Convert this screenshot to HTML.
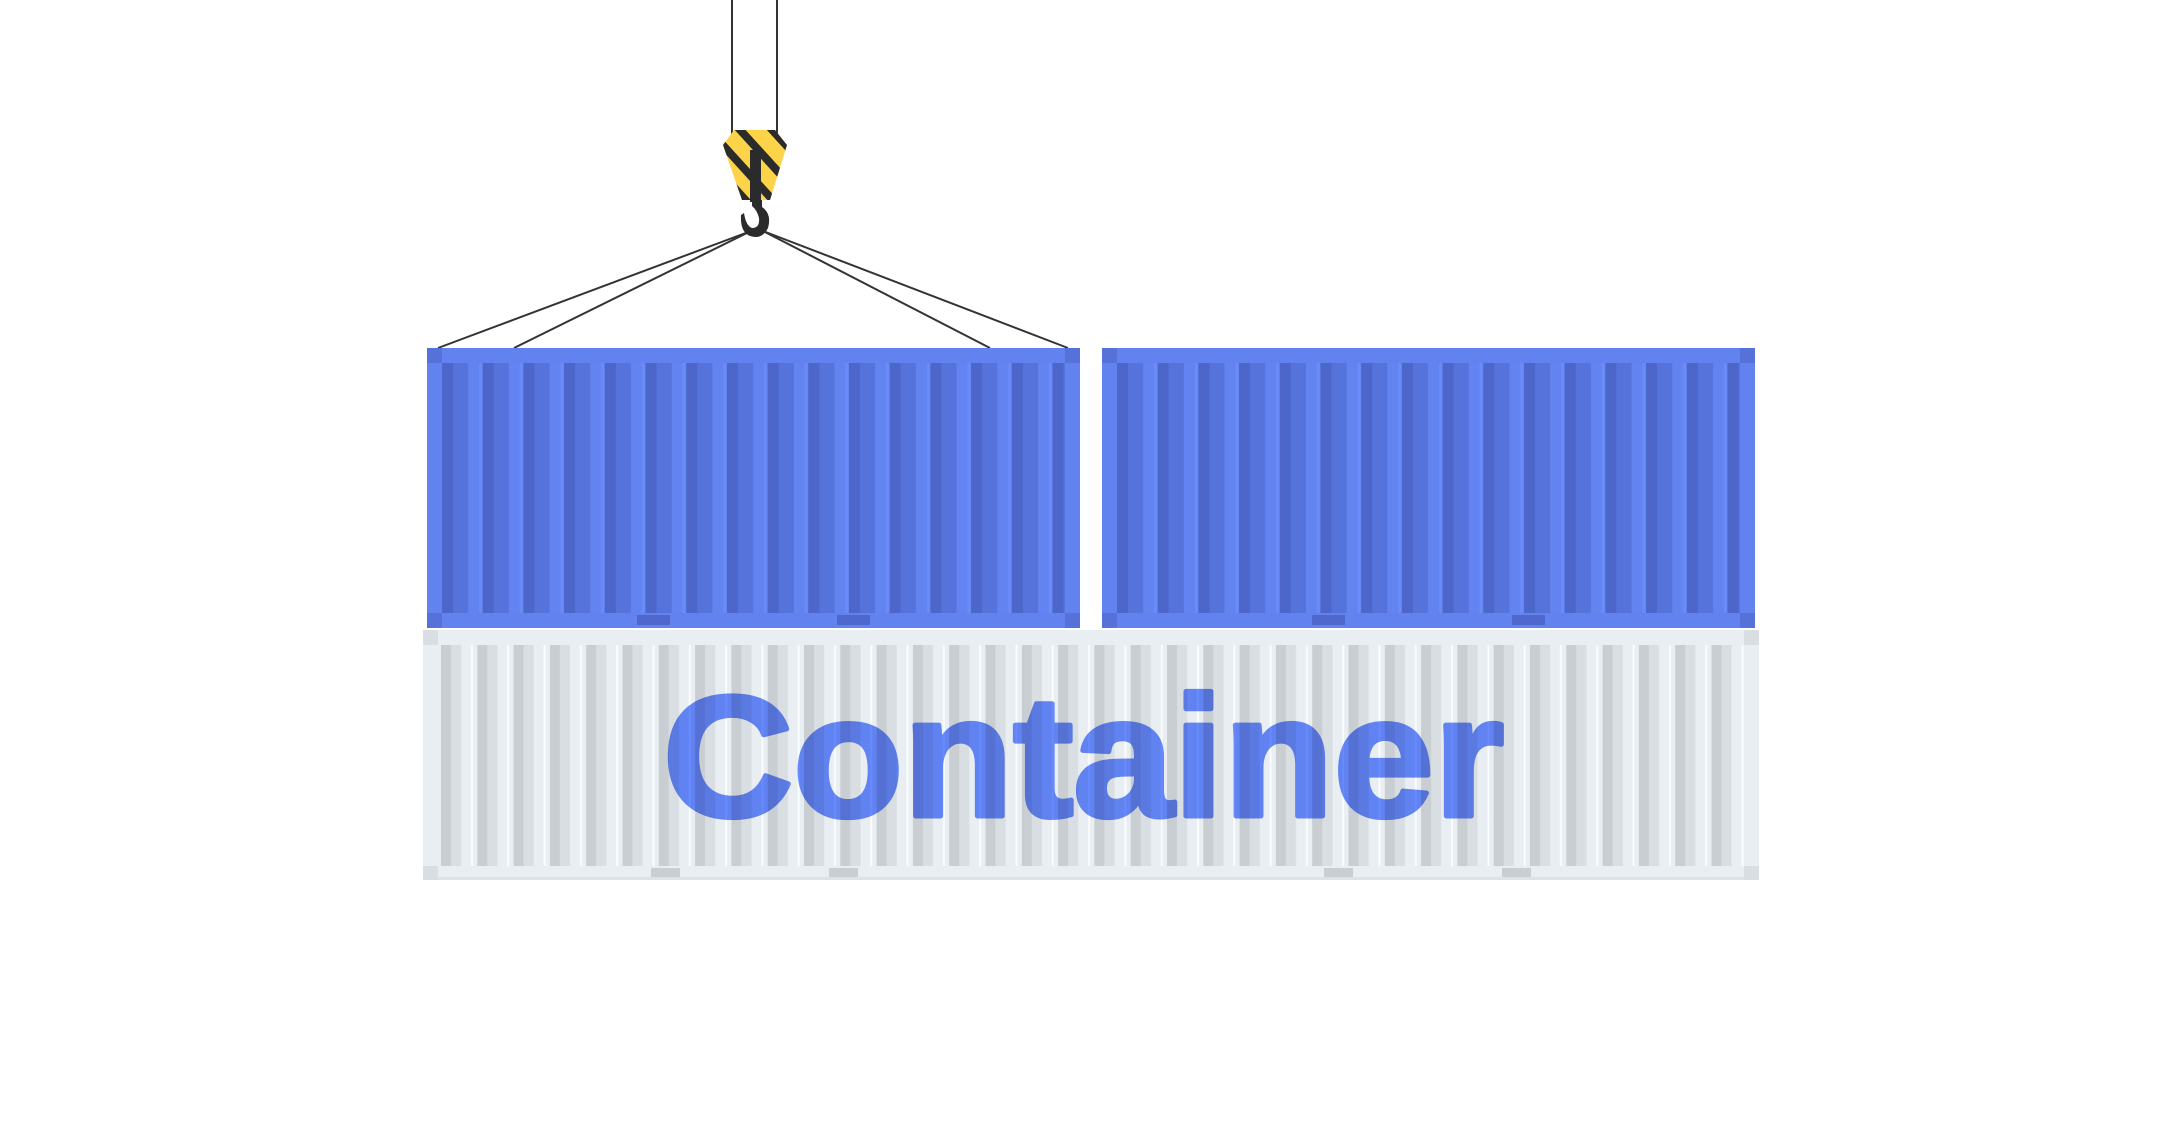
<!DOCTYPE html>
<html><head><meta charset="utf-8"><style>html,body{margin:0;padding:0;background:#fff}svg{display:block}</style></head>
<body>
<svg width="2160" height="1146" viewBox="0 0 2160 1146" xmlns="http://www.w3.org/2000/svg">
<defs>
<pattern id="pb" x="442" y="0" width="40.7" height="10" patternUnits="userSpaceOnUse">
<rect x="0" y="0" width="40.7" height="10" fill="#6384f0"/>
<rect x="0" y="0" width="26" height="10" fill="#4c66c9"/>
<rect x="11" y="0" width="15" height="10" fill="#5673dc"/>
<rect x="37" y="0" width="3" height="10" fill="#6a8bf8"/>
</pattern>
<pattern id="pb2" x="1117" y="0" width="40.7" height="10" patternUnits="userSpaceOnUse">
<rect x="0" y="0" width="40.7" height="10" fill="#6384f0"/>
<rect x="0" y="0" width="26" height="10" fill="#4c66c9"/>
<rect x="11" y="0" width="15" height="10" fill="#5673dc"/>
<rect x="37" y="0" width="3" height="10" fill="#6a8bf8"/>
</pattern>
<pattern id="pg" x="441" y="0" width="36.3" height="10" patternUnits="userSpaceOnUse">
<rect x="0" y="0" width="36.3" height="10" fill="#e9eef2"/>
<rect x="0" y="0" width="20" height="10" fill="#c9ced3"/>
<rect x="10" y="0" width="10" height="10" fill="#d9dee2"/>
<rect x="30" y="0" width="2" height="10" fill="#fafcfd"/>
</pattern>
</defs>

<line x1="732" y1="0" x2="732" y2="140" stroke="#333" stroke-width="2"/>
<line x1="777" y1="0" x2="777" y2="140" stroke="#333" stroke-width="2"/>
<g stroke="#333" stroke-width="2">
<line x1="751" y1="231" x2="438" y2="348"/>
<line x1="751" y1="231" x2="514" y2="348"/>
<line x1="763" y1="231" x2="990" y2="348"/>
<line x1="763" y1="231" x2="1068" y2="348"/>
</g>
<clipPath id="hb"><polygon points="734,130 775,130 787,145 770,200 742,200 723,145"/></clipPath>
<polygon points="734,130 775,130 787,145 770,200 742,200 723,145" fill="#fdd34a"/>
<g clip-path="url(#hb)" stroke="#2b2b2b" stroke-width="8">
<line x1="700" y1="120" x2="800" y2="230"/>
<line x1="700" y1="150" x2="800" y2="260"/>
<line x1="722" y1="110" x2="822" y2="220"/>
<line x1="745" y1="100" x2="845" y2="210"/>
<line x1="700" y1="180" x2="800" y2="290"/>
</g>
<rect x="750" y="150" width="11" height="52" fill="#2b2b2b"/>
<path d="M752 200 L762 200 L762 207 Q772 214 768 228 Q762 240 750 236 Q740 232 741 215 L744 213 Q746 226 752 228 Q760 228 759 218 Q757 210 752 206 Z" fill="#2b2b2b"/>

<rect x="427" y="348" width="653" height="280" fill="#6283ef"/>
<rect x="442" y="363" width="623" height="250" fill="url(#pb)"/>
<rect x="427" y="348" width="15" height="15" fill="#5672d9"/>
<rect x="1065" y="348" width="15" height="15" fill="#5672d9"/>
<rect x="427" y="613" width="15" height="15" fill="#5672d9"/>
<rect x="1065" y="613" width="15" height="15" fill="#5672d9"/>
<rect x="637" y="615" width="33" height="10" fill="#4e68cd"/>
<rect x="837" y="615" width="33" height="10" fill="#4e68cd"/>
<rect x="1102" y="348" width="653" height="280" fill="#6283ef"/>
<rect x="1117" y="363" width="623" height="250" fill="url(#pb2)"/>
<rect x="1102" y="348" width="15" height="15" fill="#5672d9"/>
<rect x="1740" y="348" width="15" height="15" fill="#5672d9"/>
<rect x="1102" y="613" width="15" height="15" fill="#5672d9"/>
<rect x="1740" y="613" width="15" height="15" fill="#5672d9"/>
<rect x="1312" y="615" width="33" height="10" fill="#4e68cd"/>
<rect x="1512" y="615" width="33" height="10" fill="#4e68cd"/>

<rect x="423" y="630" width="1336" height="250" fill="#e9eef2"/>
<rect x="438" y="645" width="1306" height="221" fill="url(#pg)"/>
<rect x="423" y="630" width="15" height="15" fill="#d9dee2"/>
<rect x="1744" y="630" width="15" height="15" fill="#d9dee2"/>
<rect x="423" y="866" width="15" height="14" fill="#d9dee2"/>
<rect x="1744" y="866" width="15" height="14" fill="#d9dee2"/>
<rect x="438" y="877" width="1306" height="3" fill="#dde2e6"/>
<rect x="651" y="868" width="29" height="9" fill="#c9ced3"/>
<rect x="829" y="868" width="29" height="9" fill="#c9ced3"/>
<rect x="1324" y="868" width="29" height="9" fill="#c9ced3"/>
<rect x="1502" y="868" width="29" height="9" fill="#c9ced3"/>

<text x="663" y="816" font-family="Liberation Sans, sans-serif" font-weight="bold" font-size="172" textLength="841" lengthAdjust="spacingAndGlyphs" fill="#6a8cff" stroke="#6a8cff" stroke-width="5" stroke-linejoin="round" style="mix-blend-mode:multiply">Container</text>
</svg>
</body></html>
